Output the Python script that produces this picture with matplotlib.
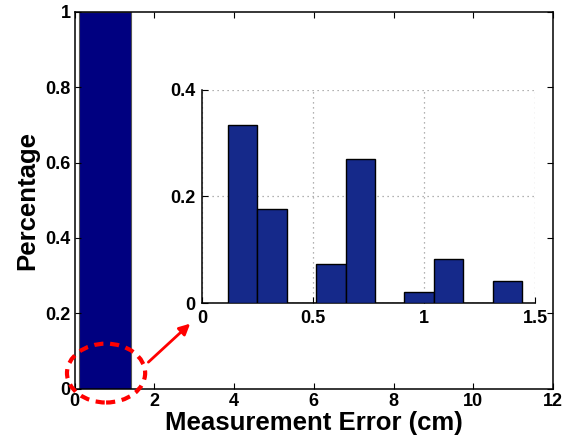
"""Measurement error histogram with a zoomed-in inset of the first bin."""

import matplotlib

matplotlib.use("Agg")
import matplotlib.pyplot as plt  # noqa: E402
import numpy as np  # noqa: E402
from matplotlib.patches import Ellipse, FancyArrowPatch  # noqa: E402

plt.rcParams["font.family"] = ["Liberation Sans", "DejaVu Sans"]
plt.rcParams["font.weight"] = "bold"

# full range histogram: all errors fall into a single bin
main_edges = [0.10, 1.42]
main_pct = [1.0]
main_xticks = [0, 2, 4, 6, 8, 10, 12]
main_yticks = [0, 0.2, 0.4, 0.6, 0.8, 1.0]
main_ylabels = ["0", "0.2", "0.4", "0.6", "0.8", "1"]

# zoom on that bin (0 - 1.5 cm)
inset_edges = [0.117, 0.250, 0.382, 0.515, 0.647, 0.780, 0.912, 1.045, 1.177, 1.310, 1.443]
inset_pct = [0.334, 0.177, 0.0, 0.0725, 0.271, 0.0, 0.0206, 0.0826, 0.0, 0.0413]
inset_xticks = [0, 0.5, 1.0, 1.5]
inset_xlabels = ["0", "0.5", "1", "1.5"]
inset_yticks = [0, 0.2, 0.4]
inset_ylabels = ["0", "0.2", "0.4"]

fig = plt.figure(figsize=(5.78, 4.45), dpi=100)
ax = fig.add_axes([0.129, 0.126, 0.828, 0.848])

edges = np.array(main_edges)
ax.bar(edges[:-1], main_pct, width=np.diff(edges), align="edge",
       color="#000080", edgecolor="#555555", lw=0.8)
ax.set_xlim(0, 12)
ax.set_ylim(0, 1)
ax.set_xticks(main_xticks)
ax.set_xticklabels([str(t) for t in main_xticks])
ax.set_yticks(main_yticks)
ax.set_yticklabels(main_ylabels)
ax.tick_params(direction="in", top=True, right=True, length=4, width=0.8,
               labelsize=13, pad=3)
for s in ax.spines.values():
    s.set_linewidth(1.1)
ax.set_xlabel("Measurement Error (cm)", fontsize=18.5, fontweight="bold", labelpad=1)
ax.set_ylabel("Percentage", fontsize=18.5, fontweight="bold", labelpad=4)

# red dashed circle around the bin and arrow to the inset
circ = Ellipse((0.79, 0.042), 1.96, 0.156, fill=False, ec="red", lw=3,
               ls=(0, (2.2, 1.6)), clip_on=False, zorder=5)
ax.add_patch(circ)
arr = FancyArrowPatch((1.80, 0.066), (2.95, 0.178), arrowstyle="-|>",
                      mutation_scale=16, color="red", lw=2, clip_on=False, zorder=5)
ax.add_patch(arr)

ins = fig.add_axes([0.3495, 0.319, 0.576, 0.479])
iedges = np.array(inset_edges)
ins.bar(iedges[:-1], inset_pct, width=np.diff(iedges), align="edge",
        color="#15298A", edgecolor="black", lw=1.0, zorder=3)
ins.set_xlim(0, 1.5)
ins.set_ylim(0, 0.4)
ins.set_xticks(inset_xticks)
ins.set_xticklabels(inset_xlabels)
ins.set_yticks(inset_yticks)
ins.set_yticklabels(inset_ylabels)
ins.grid(True, ls=(0, (1, 3)), color="#999999", lw=0.9)
ins.set_axisbelow(True)
ins.spines["top"].set_visible(False)
ins.spines["right"].set_visible(False)
for s in ("left", "bottom"):
    ins.spines[s].set_linewidth(1.1)
ins.tick_params(direction="in", length=4, width=0.8, labelsize=13, pad=5)
ins.set_facecolor("white")

fig.savefig("out.png", dpi=100)
plt.close(fig)
